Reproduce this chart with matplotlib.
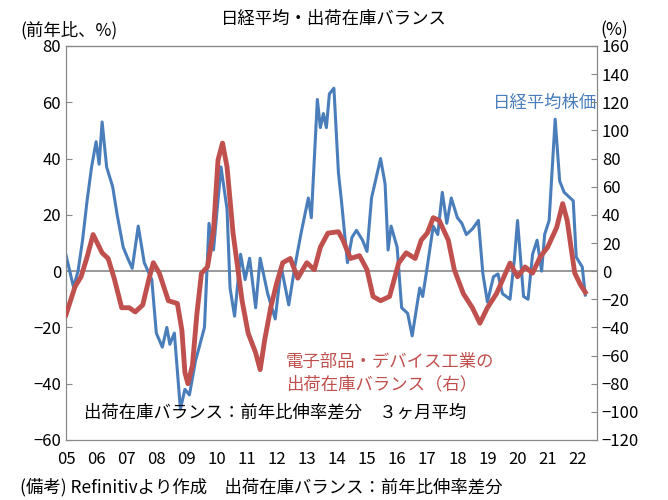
import matplotlib
matplotlib.use("Agg")
import matplotlib.pyplot as plt

plt.rcParams['font.family'] = ['Noto Sans CJK JP', 'DejaVu Sans']

# 日経平均株価 前年比 (%)  (year, value)
nikkei_t = [2005.0, 2005.25, 2005.4, 2005.55, 2005.7, 2005.85, 2006.0, 2006.1, 2006.2, 2006.35,
            2006.55, 2006.7, 2006.9, 2007.05, 2007.2, 2007.4, 2007.6, 2007.85, 2008.0, 2008.2,
            2008.35, 2008.45, 2008.6, 2008.8, 2008.95, 2009.1, 2009.3, 2009.6, 2009.75, 2009.9,
            2010.15, 2010.35, 2010.45, 2010.6, 2010.8, 2010.95, 2011.1, 2011.3, 2011.45, 2011.7,
            2011.95, 2012.15, 2012.4, 2012.6, 2012.8, 2013.05, 2013.15, 2013.35, 2013.45, 2013.55,
            2013.65, 2013.75, 2013.9, 2014.05, 2014.15, 2014.35, 2014.5, 2014.65, 2014.85, 2015.0,
            2015.15, 2015.45, 2015.6, 2015.7, 2015.8, 2016.0, 2016.15, 2016.35, 2016.5, 2016.75,
            2016.85, 2017.0, 2017.2, 2017.35, 2017.5, 2017.65, 2017.8, 2018.0, 2018.15, 2018.3,
            2018.5, 2018.7, 2018.85, 2019.0, 2019.2, 2019.35, 2019.5, 2019.75, 2019.9, 2020.0,
            2020.2, 2020.35, 2020.5, 2020.65, 2020.8, 2020.9, 2021.05, 2021.25, 2021.4, 2021.55,
            2021.75, 2021.85, 2021.95, 2022.15, 2022.25]
nikkei_v = [5.7, -5.7, 0, 11, 25, 37, 46, 38, 53, 37,
            30, 20, 8.5, 4.6, 1, 16, 3, -3, -22, -27,
            -20, -26, -22, -49, -42, -44, -32, -20, 17, 7.5,
            37, 22, -6, -16, 6, -3, 4.6, -13, 4.6, -8,
            -17, 1.5, -12, 1.5, 13, 26, 19, 61, 51, 56,
            51, 63, 65, 35, 25, 3, 12, 14.5, 11, 7,
            26, 40, 31, 7.5, 16, 8.5, -13, -15, -23, -6,
            -9, 1.5, 16, 13, 28, 17, 26, 19, 17, 13,
            15, 18, -1, -11, -2, -1, -8, -10, 4.6, 18,
            -9, -10, 6, 11, 0, 13, 18, 54, 32, 28,
            26, 25, 5, 1.5, -8.5]

# 電子部品・デバイス工業の出荷在庫バランス (%, right axis)
balance_t = [2005.0, 2005.3, 2005.5, 2005.7, 2005.9, 2006.2, 2006.4, 2006.6, 2006.85, 2007.1,
             2007.3, 2007.55, 2007.75, 2007.9, 2008.1, 2008.4, 2008.7, 2008.85, 2008.95, 2009.05,
             2009.2, 2009.35, 2009.5, 2009.7, 2009.9, 2010.05, 2010.2, 2010.35, 2010.55, 2010.85,
             2011.05, 2011.3, 2011.45, 2011.6, 2011.8, 2012.0, 2012.2, 2012.45, 2012.7, 2013.0,
             2013.25, 2013.45, 2013.7, 2014.05, 2014.2, 2014.45, 2014.75, 2015.0, 2015.2, 2015.45,
             2015.75, 2016.05, 2016.3, 2016.6, 2016.8, 2017.0, 2017.2, 2017.4, 2017.7, 2017.9,
             2018.2, 2018.5, 2018.75, 2019.0, 2019.3, 2019.75, 2020.0, 2020.25, 2020.5, 2020.75,
             2021.0, 2021.3, 2021.5, 2021.65, 2021.9, 2022.1, 2022.25]
balance_v = [-31, -11, -4, 10, 26, 13, 9, -5, -26, -26,
             -29, -24, -6, 6, -1.4, -21, -23, -42, -72, -80,
             -67, -30, -1.5, 3, 29, 79, 91, 74, 27, -21,
             -44, -58, -70, -49, -26, -8.5, 6, 9, -5, 6,
             1, 17, 27, 28, 22, 9, 11, 1, -18, -21,
             -18, 5.7, 13, 9, 22, 27, 38, 36, 22, 1,
             -16, -26, -37, -26, -16, 5.7, -4, 3, -1.4, 10,
             17, 31, 48, 36, -1.4, -10, -15]

year_ticks = list(range(2005, 2023))
year_labels = [f"{y % 100:02d}" for y in year_ticks]

blue = '#4a7ebb'
red = '#c0504d'

fig = plt.figure(figsize=(6.68, 5.0), dpi=100)
ax = fig.add_axes([66/668, 60/500, 531/668, 394/500])
ax2 = ax.twinx()

ax.axhline(0, color='#888888', lw=1.2, zorder=1)
ax.plot(nikkei_t, nikkei_v, color=blue, lw=2.2, zorder=3)
ax2.plot(balance_t, balance_v, color=red, lw=3.5, zorder=4)

ax.set_xlim(2005, 2022.64)
ax.set_ylim(-60, 80)
ax2.set_ylim(-120, 160)
ax.set_yticks(range(-60, 81, 20))
ax2.set_yticks(range(-120, 161, 20))
ax.set_xticks(year_ticks)
ax.set_xticklabels(year_labels)
ax.tick_params(axis='x', length=0, labelsize=12, pad=8)
ax.tick_params(axis='y', direction='in', length=4, labelsize=12, color='#888888')
ax2.tick_params(axis='y', direction='in', length=4, labelsize=12, color='#888888')
for a in (ax, ax2):
    for s in a.spines.values():
        s.set_color('#888888')
ax.spines['top'].set_color('black')

fig.text(0.5, 0.952, '日経平均・出荷在庫バランス', ha='center', fontsize=12.5)
fig.text(0.03, 0.93, '(前年比、%)', ha='left', fontsize=12.5)
fig.text(0.94, 0.93, '(%)', ha='right', fontsize=12.5)
ax.text(2019.2, 58, '日経平均株価', color=blue, fontsize=12.5)
ax.text(2012.3, -29, '電子部品・デバイス工業の\n出荷在庫バランス（右）', color=red, fontsize=12.5,
        va='top', linespacing=1.3)
ax.text(2005.6, -52, '出荷在庫バランス：前年比伸率差分　３ヶ月平均', fontsize=12.5)
fig.text(0.03, 0.015, '(備考) Refinitivより作成　出荷在庫バランス：前年比伸率差分', fontsize=12.5)

fig.savefig('out.png', dpi=100)
